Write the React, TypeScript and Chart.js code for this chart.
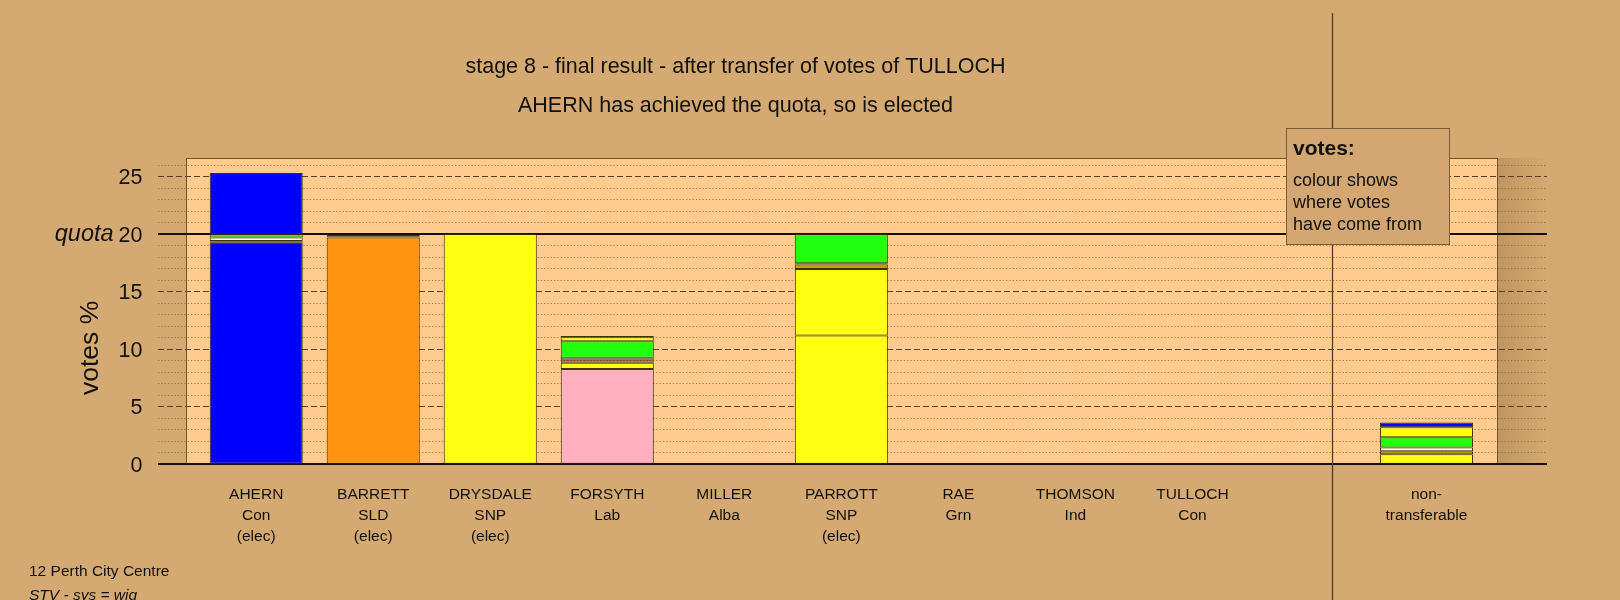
import React, { useEffect, useRef } from 'react';
import { Chart, registerables } from 'chart.js';

Chart.register(...registerables);

// ---------- data ----------
const candidateNames = ['AHERN', 'BARRETT', 'DRYSDALE', 'FORSYTH', 'MILLER', 'PARROTT', 'RAE', 'THOMSON', 'TULLOCH'];
const candidateParties = ['Con', 'SLD', 'SNP', 'Lab', 'Alba', 'SNP', 'Grn', 'Ind', 'Con'];
const candidateStatus = ['(elec)', '(elec)', '(elec)', '', '', '(elec)', '', '', ''];
const nonTransferableLabel = ['non-', 'transferable'];
// category slots: candidates 0..8, slot 9 left empty, non-transferable in slot 10
const slotPositions = [0, 1, 2, 3, 4, 5, 6, 7, 8, 10];

// vote shares (%) per slot, stacked bottom to top in transfer order
const firstPreferences = [19.28, 19.68, 20.0, 8.25, 0, 11.15, 0, 0, 0, 0];
const fromDrysdale = [0.03, 0.12, 0, 0.55, 0, 5.79, 0, 0, 0, 0.82];
const fromMiller = [0.07, 0.12, 0, 0.2, 0, 0.4, 0, 0, 0, 0.28];
const fromThomson = [0.3, 0.03, 0, 0.22, 0, 0.1, 0, 0, 0, 0.32];
const fromRae = [0.3, 0.05, 0, 1.45, 0, 2.56, 0, 0, 0, 0.88];
const fromParrott = [0.02, 0, 0, 0.33, 0, 0, 0, 0, 0, 0.89];
const fromTulloch = [5.3, 0, 0, 0.12, 0, 0, 0, 0, 0, 0.41];

const yTickValues = [0, 5, 10, 15, 20, 25];
const quotaValue = 20;
const yMax = 26.6;

const titleLines = ['stage 8 - final result - after transfer of votes of TULLOCH', 'AHERN has achieved the quota, so is elected'];
const legendTitle = 'votes:';
const legendLines = ['colour shows', 'where votes', 'have come from'];
const footerLines = ['12 Perth City Centre', 'STV - sys = wig'];

// ---------- styles ----------
const BG = '#D5A972';
const PANEL = '#FFCB8F';
const EDGE = 'rgba(50,40,10,0.95)';
const FONT = '"Liberation Sans", Arial, Helvetica, sans-serif';
const partyColour: Record<string, string> = {
  Con: '#0000FF',
  SLD: '#FF9410',
  SNP: '#FFFF11',
  Lab: '#FFAFC0',
  Alba: '#BBA800',
  Grn: '#22FF11',
  Ind: '#FFFFFF',
};
const nonTransferableColour = '#888888';

function xLabelFor(value: number): string[] | string {
  if (value === 10) return nonTransferableLabel;
  const i = Math.round(value);
  if (i < 0 || i >= candidateNames.length) return '';
  const lines = [candidateNames[i], candidateParties[i]];
  if (candidateStatus[i]) lines.push(candidateStatus[i]);
  return lines;
}

function makeDataset(label: string, values: number[], colour: string | string[]) {
  return {
    label,
    data: slotPositions.map((p, i) => ({ x: p, y: values[i] > 0 ? values[i] : null })),
    backgroundColor: colour,
    borderColor: EDGE,
    borderWidth: 1,
    borderSkipped: false,
    barPercentage: 0.795,
    categoryPercentage: 1,
  };
}

const firstPrefColours = slotPositions.map((p, i) =>
  i < candidateParties.length ? partyColour[candidateParties[i]] : nonTransferableColour
);

const decorPlugin = {
  id: 'decor',
  beforeDatasetsDraw(chart: any) {
    const { ctx, chartArea, scales } = chart;
    const x = scales.x;
    const y = scales.y;
    const top = chartArea.top;
    const bottom = chartArea.bottom;
    const panelL = Math.round(x.getPixelForValue(-0.6));
    const panelR = Math.round(x.getPixelForValue(10.6));
    ctx.save();
    // panel
    ctx.fillStyle = PANEL;
    ctx.fillRect(panelL, top, panelR - panelL, bottom - top);
    // shading right of panel
    const g = ctx.createLinearGradient(panelR, 0, chartArea.right, 0);
    g.addColorStop(0, 'rgba(120,80,30,0.22)');
    g.addColorStop(1, 'rgba(120,80,30,0)');
    ctx.fillStyle = g;
    ctx.fillRect(panelR, top, chartArea.right - panelR, bottom - top);
    // panel border
    ctx.strokeStyle = '#6e5330';
    ctx.lineWidth = 1;
    ctx.strokeRect(panelL + 0.5, top + 0.5, panelR - panelL, bottom - top);
    // grid lines
    for (let v = 1; v <= Math.floor(yMax); v++) {
      if (v === quotaValue) continue;
      const py = Math.round(y.getPixelForValue(v)) + 0.5;
      ctx.beginPath();
      if (v % 5 === 0) {
        ctx.strokeStyle = '#5a3f20';
        ctx.setLineDash([6, 3]);
      } else {
        ctx.strokeStyle = 'rgba(140,95,45,0.75)';
        ctx.setLineDash([1.3, 2]);
      }
      ctx.moveTo(chartArea.left, py);
      ctx.lineTo(chartArea.right, py);
      ctx.stroke();
    }
    ctx.setLineDash([]);
    // quota line and baseline
    ctx.strokeStyle = '#111';
    ctx.lineWidth = 2;
    for (const v of [quotaValue, 0]) {
      const py = Math.round(y.getPixelForValue(v));
      ctx.beginPath();
      ctx.moveTo(chartArea.left, py);
      ctx.lineTo(chartArea.right, py);
      ctx.stroke();
    }
    ctx.restore();
  },
  afterDraw(chart: any) {
    const { ctx, chartArea, scales } = chart;
    const x = scales.x;
    const y = scales.y;
    ctx.save();
    // divider before non-transferable
    const dx = Math.round(x.getPixelForValue(9.195)) + 0.5;
    ctx.strokeStyle = '#4e3e26';
    ctx.lineWidth = 1.3;
    ctx.beginPath();
    ctx.moveTo(dx, 13);
    ctx.lineTo(dx, 600);
    ctx.stroke();

    // titles
    ctx.fillStyle = '#111';
    ctx.textAlign = 'center';
    ctx.textBaseline = 'middle';
    ctx.font = `21.5px ${FONT}`;
    ctx.fillText(titleLines[0], 735.5, 67);
    ctx.fillText(titleLines[1], 735.5, 106.3);

    // quota label
    ctx.textAlign = 'right';
    ctx.font = `italic 23.5px ${FONT}`;
    ctx.fillText('quota', 113.6, y.getPixelForValue(quotaValue) + 1);

    // y axis title
    ctx.save();
    ctx.translate(91, (chartArea.top + chartArea.bottom) / 2 + 37);
    ctx.rotate(-Math.PI / 2);
    ctx.textAlign = 'center';
    ctx.font = `26.5px ${FONT}`;
    ctx.fillText('votes %', 0, 0);
    ctx.restore();

    // legend box
    ctx.fillStyle = '#D3A672';
    ctx.fillRect(1286, 128, 163, 117);
    ctx.strokeStyle = '#7a5c35';
    ctx.lineWidth = 1;
    ctx.strokeRect(1286.5, 128.5, 163, 116);
    ctx.fillStyle = '#111';
    ctx.textAlign = 'left';
    ctx.font = `bold 21px ${FONT}`;
    ctx.fillText(legendTitle, 1293, 149.5);
    ctx.font = `18px ${FONT}`;
    legendLines.forEach((t, i) => ctx.fillText(t, 1293, 181.3 + i * 21.8));

    // footer
    ctx.font = `15.5px ${FONT}`;
    ctx.fillText(footerLines[0], 29, 572);
    ctx.font = `italic 15.5px ${FONT}`;
    ctx.fillText(footerLines[1], 29, 596);
    ctx.restore();
  },
};

export default function App() {
  const ref = useRef<HTMLCanvasElement>(null);
  useEffect(() => {
    Chart.defaults.font.family = FONT;
    const chart = new Chart(ref.current as HTMLCanvasElement, {
      type: 'bar',
      data: {
        datasets: [
          makeDataset('first preferences', firstPreferences, firstPrefColours),
          makeDataset('from DRYSDALE', fromDrysdale, partyColour.SNP),
          makeDataset('from MILLER', fromMiller, partyColour.Alba),
          makeDataset('from THOMSON', fromThomson, partyColour.Ind),
          makeDataset('from RAE', fromRae, partyColour.Grn),
          makeDataset('from PARROTT', fromParrott, partyColour.SNP),
          makeDataset('from TULLOCH', fromTulloch, partyColour.Con),
        ] as any,
      },
      options: {
        responsive: false,
        animation: false,
        devicePixelRatio: 1,
        layout: { padding: { left: 0, right: 73, top: 158, bottom: 0 } },
        plugins: { legend: { display: false }, tooltip: { enabled: false }, title: { display: false } },
        scales: {
          x: {
            type: 'linear',
            min: -0.8393,
            max: 11.03,
            offset: false,
            stacked: true,
            grid: { display: false, drawTicks: false },
            border: { display: false },
            afterBuildTicks: (s: any) => {
              s.ticks = slotPositions.map((v) => ({ value: v }));
            },
            afterFit: (s: any) => {
              s.height = 136.2;
            },
            ticks: {
              autoSkip: false,
              maxRotation: 0,
              minRotation: 0,
              padding: 21,
              color: '#111',
              font: { size: 15.5, lineHeight: 20.7 / 15.5 },
              callback: (value: any) => xLabelFor(Number(value)),
            },
          },
          y: {
            min: 0,
            max: yMax,
            stacked: true,
            grid: { display: false, drawTicks: false },
            border: { display: false },
            afterBuildTicks: (s: any) => {
              s.ticks = yTickValues.map((v) => ({ value: v }));
            },
            afterFit: (s: any) => {
              s.width = 158;
            },
            ticks: {
              padding: 15.5,
              labelOffset: 2,
              color: '#111',
              font: { size: 21.5 },
              callback: (value: any) => String(value),
            },
          },
        },
      } as any,
      plugins: [decorPlugin],
    });
    return () => chart.destroy();
  }, []);
  return (
    <div style={{ position: 'fixed', left: 0, top: 0, width: 1620, height: 600, background: BG, overflow: 'hidden' }}>
      <canvas ref={ref} width={1620} height={600} style={{ display: 'block' }} />
    </div>
  );
}
